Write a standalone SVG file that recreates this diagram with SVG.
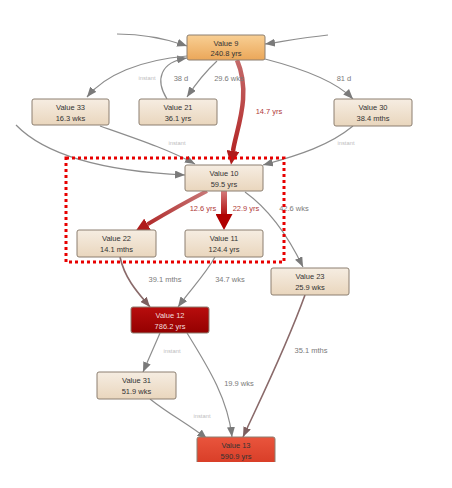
<svg xmlns="http://www.w3.org/2000/svg" width="452" height="488" viewBox="0 0 452 488">
<style>
.node rect{stroke:#8c7f70;stroke-width:1}
.t{font-family:"Liberation Sans",Arial,sans-serif;font-size:7.5px;text-anchor:middle;fill:#333}
.tw{fill:#f3dcdc}
.e{fill:none;stroke:#8d8d8d;stroke-width:1.2}
.eb{fill:none;stroke:#8a6a6a;stroke-width:1.6}
.lbl{font-family:"Liberation Sans",Arial,sans-serif;font-size:7.5px;text-anchor:middle;fill:#7a7a7a}
.lr{fill:#b03a3a}
.li{font-family:"Liberation Sans",Arial,sans-serif;font-size:5.8px;text-anchor:middle;fill:#bdbdbd}
</style>
<defs>
<linearGradient id="gDef" x1="0" y1="0" x2="0" y2="1"><stop offset="0" stop-color="#f6ede2"/><stop offset="1" stop-color="#e9d6bd"/></linearGradient>
<linearGradient id="gOr" x1="0" y1="0" x2="0" y2="1"><stop offset="0" stop-color="#f8cf94"/><stop offset="1" stop-color="#eba759"/></linearGradient>
<linearGradient id="gDr" x1="0" y1="0" x2="0" y2="1"><stop offset="0" stop-color="#b80d0d"/><stop offset="1" stop-color="#940000"/></linearGradient>
<linearGradient id="gRd" x1="0" y1="0" x2="0" y2="1"><stop offset="0" stop-color="#e9553d"/><stop offset="1" stop-color="#d63a24"/></linearGradient>
<linearGradient id="g147" gradientUnits="userSpaceOnUse" x1="0" y1="60" x2="0" y2="160"><stop offset="0" stop-color="#c46a6a"/><stop offset="1" stop-color="#b22020"/></linearGradient>
<linearGradient id="g126" gradientUnits="userSpaceOnUse" x1="207" y1="191" x2="145" y2="226"><stop offset="0" stop-color="#c87878"/><stop offset="1" stop-color="#b02828"/></linearGradient>
<linearGradient id="g229" gradientUnits="userSpaceOnUse" x1="0" y1="191" x2="0" y2="216"><stop offset="0" stop-color="#d47a7a"/><stop offset="1" stop-color="#b00a0a"/></linearGradient>
<marker id="ag" markerUnits="userSpaceOnUse" markerWidth="10" markerHeight="8" viewBox="0 0 10 8" refX="10" refY="4" orient="auto"><path d="M0,0L10,4L0,8z" fill="#7a7a7a"/></marker>
<marker id="ab" markerUnits="userSpaceOnUse" markerWidth="10" markerHeight="8" viewBox="0 0 10 8" refX="10" refY="4" orient="auto"><path d="M0,0L10,4L0,8z" fill="#7d5f5f"/></marker>
<marker id="ar" markerUnits="userSpaceOnUse" markerWidth="14" markerHeight="13" viewBox="0 0 14 13" refX="0" refY="6.5" orient="auto"><path d="M0,0L14,6.5L0,13z" fill="#b01c1c"/></marker>
<marker id="arb" markerUnits="userSpaceOnUse" markerWidth="16" markerHeight="17" viewBox="0 0 16 17" refX="0" refY="8.5" orient="auto"><path d="M0,0L16,8.5L0,17z" fill="#b00000"/></marker>
<clipPath id="cut"><rect x="0" y="0" width="452" height="462"/></clipPath>
</defs>
<rect width="452" height="488" fill="#fff"/>
<g id="connectors">
<path class="e" d="M117,34 C145,34 170,40 187,46" marker-end="url(#ag)"/>
<path class="e" d="M328,35 C300,38 280,42 265,44" marker-end="url(#ag)"/>
<path class="e" d="M217,61 C205,72 195,85 187,97" marker-end="url(#ag)"/>
<path class="e" d="M167,99 C155,80 160,62 187,58" marker-end="url(#ag)"/>
<path class="e" d="M187,56 C140,60 105,75 87,97" marker-end="url(#ag)"/>
<path class="e" d="M265,59 C300,68 335,80 353,99" marker-end="url(#ag)"/>
<path class="e" d="M100,126 C140,140 170,150 195,164" marker-end="url(#ag)"/>
<path class="e" d="M16,125 C50,160 120,172 185,175" marker-end="url(#ag)"/>
<path class="e" d="M353,126 C330,145 300,155 263,165" marker-end="url(#ag)"/>
<path class="e" d="M245,192 C270,210 290,240 303,267" marker-end="url(#ag)"/>
<path class="eb" d="M120,257 C125,280 140,295 150,307" marker-end="url(#ab)"/>
<path class="e" d="M215,257 C205,275 190,290 178,307" marker-end="url(#ag)"/>
<path class="eb" d="M305,295 C285,350 260,400 243,437" marker-end="url(#ab)"/>
<path class="e" d="M160,333 L143,372" marker-end="url(#ag)"/>
<path class="e" d="M187,333 C210,370 228,400 232,437" marker-end="url(#ag)"/>
<path class="e" d="M150,399 C170,415 190,425 207,439" marker-end="url(#ag)"/>
<path d="M237,60 C252,95 236,130 233,151" fill="none" stroke="url(#g147)" stroke-width="4.5" marker-end="url(#ar)"/>
<path d="M207,191 Q180,205 147.5,224.2" fill="none" stroke="url(#g126)" stroke-width="4" marker-end="url(#ar)"/>
<path d="M224,191 L224,214" fill="none" stroke="url(#g229)" stroke-width="6" marker-end="url(#arb)"/>
<text class="lbl" x="229" y="81">29.6 wks</text>
<text class="lbl" x="181" y="81">38 d</text>
<text class="li" x="147" y="80">instant</text>
<text class="lbl" x="344" y="81">81 d</text>
<text class="lbl lr" x="269" y="114">14.7 yrs</text>
<text class="li" x="177" y="145">instant</text>
<text class="li" x="346" y="145">instant</text>
<text class="lbl lr" x="203" y="211">12.6 yrs</text>
<text class="lbl lr" x="246" y="211">22.9 yrs</text>
<text class="lbl" x="294" y="211">42.6 wks</text>
<text class="lbl" x="165" y="282">39.1 mths</text>
<text class="lbl" x="230" y="282">34.7 wks</text>
<text class="lbl" x="311" y="353">35.1 mths</text>
<text class="li" x="172" y="353">instant</text>
<text class="lbl" x="239" y="386">19.9 wks</text>
<text class="li" x="202" y="418">instant</text>
</g>
<rect x="66" y="158" width="218" height="104" fill="none" stroke="#e80000" stroke-width="3" stroke-dasharray="3 3"/>
<g id="n9" class="node"><rect x="187" y="35" width="78" height="25" rx="2" fill="url(#gOr)" stroke="#a87a48"/><text class="t" x="226" y="45.5">Value 9</text><text class="t" x="226" y="56">240.8 yrs</text></g>
<g id="n33" class="node"><rect x="32" y="99" width="77" height="26" rx="2" fill="url(#gDef)"/><text class="t" x="70.5" y="110">Value 33</text><text class="t" x="70.5" y="120.5">16.3 wks</text></g>
<g id="n21" class="node"><rect x="139" y="99" width="78" height="26" rx="2" fill="url(#gDef)"/><text class="t" x="178" y="110">Value 21</text><text class="t" x="178" y="120.5">36.1 yrs</text></g>
<g id="n30" class="node"><rect x="334" y="99" width="78" height="27" rx="2" fill="url(#gDef)"/><text class="t" x="373" y="110">Value 30</text><text class="t" x="373" y="120.5">38.4 mths</text></g>
<g id="n10" class="node"><rect x="185" y="165" width="78" height="26" rx="2" fill="url(#gDef)"/><text class="t" x="224" y="176">Value 10</text><text class="t" x="224" y="186.5">59.5 yrs</text></g>
<g id="n22" class="node"><rect x="77" y="230" width="79" height="27" rx="2" fill="url(#gDef)"/><text class="t" x="116.5" y="241">Value 22</text><text class="t" x="116.5" y="251.5">14.1 mths</text></g>
<g id="n11" class="node"><rect x="185" y="230" width="78" height="27" rx="2" fill="url(#gDef)"/><text class="t" x="224" y="241">Value 11</text><text class="t" x="224" y="251.5">124.4 yrs</text></g>
<g id="n23" class="node"><rect x="271" y="268" width="78" height="27" rx="2" fill="url(#gDef)"/><text class="t" x="310" y="279">Value 23</text><text class="t" x="310" y="289.5">25.9 wks</text></g>
<g id="n12" class="node"><rect x="131" y="307" width="78" height="26" rx="2" fill="url(#gDr)" stroke="#6a1010"/><text class="t tw" x="170" y="318">Value 12</text><text class="t tw" x="170" y="328.5">786.2 yrs</text></g>
<g id="n31" class="node"><rect x="97" y="372" width="79" height="27" rx="2" fill="url(#gDef)"/><text class="t" x="136.5" y="383">Value 31</text><text class="t" x="136.5" y="393.5">51.9 wks</text></g>
<g id="n13" class="node" clip-path="url(#cut)"><rect x="197" y="437" width="78" height="30" rx="2" fill="url(#gRd)" stroke="#8a3a2a"/><text class="t" x="236" y="448">Value 13</text><text class="t" x="236" y="458.5">590.9 yrs</text></g>
</svg>
